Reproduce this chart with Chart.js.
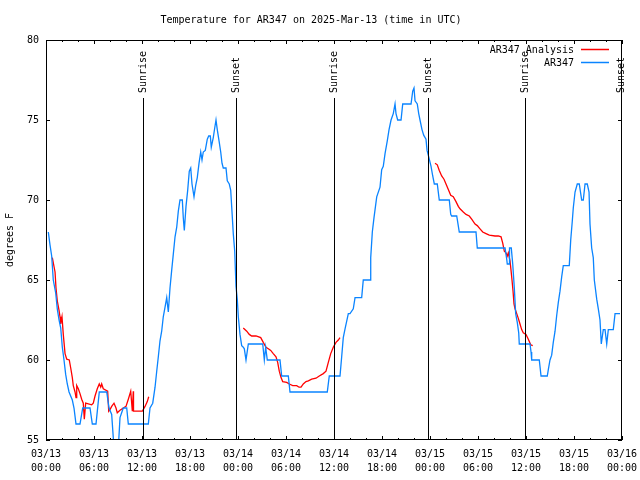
<!DOCTYPE html>
<html>
<head>
<meta charset="utf-8">
<title>AR347 temperature</title>
<script src="https://cdn.jsdelivr.net/npm/chart.js@4/dist/chart.umd.min.js"></script>
<style>
  html, body { margin: 0; padding: 0; background: #fff; }
</style>
</head>
<body>
<canvas id="chart" width="640" height="480"></canvas>
<script>
/* ---------- DATA (hours since 03/13 00:00 UTC) ---------- */
const obsHours = [
  0.29, 0.5, 0.71, 0.91, 1.21, 1.41, 1.63, 1.84, 2.04, 2.25, 2.46, 2.66, 2.88, 3.29, 3.5, 3.75,
  4.25, 4.59, 5.5, 5.79, 6.25, 6.66, 7.59, 7.88, 8.21, 8.5, 9.04, 9.25, 9.66, 10.09, 10.29,
  12.79, 13.0, 13.34, 13.63, 13.84, 14.04, 14.25, 14.46, 14.66, 14.88, 15.09, 15.29, 15.5,
  15.71, 15.91, 16.13, 16.34, 16.54, 16.75, 17.04, 17.16, 17.29, 17.5, 17.71, 17.91, 18.09,
  18.25, 18.5, 18.71, 18.91, 19.13, 19.34, 19.5, 19.66, 19.91, 20.16, 20.34, 20.54, 20.66,
  20.91, 21.09, 21.25, 21.41, 21.63, 21.84, 22.0, 22.16, 22.5, 22.66, 22.91, 23.09, 23.21,
  23.41, 23.59, 23.75, 23.91, 24.04, 24.25, 24.46, 24.66, 24.79, 25.0, 25.29, 27.09, 27.29,
  27.46, 27.66, 29.25, 29.46, 30.29, 30.5, 35.16, 35.41, 36.75, 36.96, 37.16, 37.38, 37.79,
  38.0, 38.41, 38.63, 39.46, 39.66, 40.5, 40.59, 40.79, 41.0, 41.34, 41.75, 41.96, 42.16,
  42.38, 42.66, 42.88, 43.13, 43.41, 43.63, 43.75, 43.96, 44.38, 44.59, 45.63, 45.84, 46.0,
  46.13, 46.41, 46.59, 46.75, 47.0, 47.21, 47.5, 47.63, 47.84, 48.13, 48.34, 48.54, 48.91,
  49.16, 50.41, 50.59, 50.71, 51.34, 51.66, 53.75, 53.91, 57.38, 57.59, 57.66, 57.91, 57.94,
  58.16, 58.34, 58.54, 58.71, 58.91, 59.09, 59.16, 60.5, 60.63, 60.71, 61.66, 61.88, 62.66,
  62.79, 63.0, 63.21, 63.41, 63.63, 63.84, 64.04, 64.25, 64.46, 64.66, 65.41, 65.59, 65.79,
  65.91, 66.13, 66.41, 66.66, 66.84, 66.96, 67.16, 67.38, 67.66, 67.88, 68.0, 68.21, 68.41,
  68.54, 68.84, 69.04, 69.25, 69.41, 69.66, 69.88, 70.09, 70.29, 70.91, 71.13, 71.75
];
const obsTemps = [
  68.0, 67.2, 66.5, 65.0, 64.2, 63.2, 62.5, 62.0, 60.8, 60.0, 59.1, 58.5, 58.0, 57.5, 57.0, 56.0,
  56.0, 57.0, 57.0, 56.0, 56.0, 58.0, 58.0, 57.0, 56.6, 54.5, 54.5, 56.4, 57.0, 57.0, 56.0,
  56.0, 57.0, 57.3, 58.3, 59.3, 60.2, 61.2, 61.8, 62.7, 63.3, 63.9, 63.0, 64.5,
  65.6, 66.6, 67.7, 68.3, 69.3, 70.0, 70.0, 68.9, 68.1, 69.6, 70.6, 71.8, 72.0,
  71.0, 70.2, 70.9, 71.4, 72.3, 73.0, 72.5, 73.0, 73.1, 73.8, 74.0, 74.0, 73.3,
  73.9, 74.5, 75.0, 74.4, 73.7, 73.0, 72.3, 72.0, 72.0, 71.2, 71.0, 70.6, 69.6,
  67.9, 66.8, 64.6, 63.8, 62.7, 61.6, 60.9, 60.8, 60.7, 60.0, 61.0, 61.0, 60.0,
  60.8, 60.0, 60.0, 59.0, 59.0, 58.0, 58.0, 59.0, 59.0, 60.2, 61.4, 61.95, 62.9,
  62.9, 63.2, 63.9, 63.9, 65.0, 65.0, 66.4, 68.0, 68.9, 70.2, 70.8, 71.9, 72.1,
  72.9, 73.7, 74.4, 75.0, 75.4, 76.0, 75.4, 75.0, 75.0, 76.0, 76.0, 76.8, 77.0,
  76.2, 76.0, 75.4, 75.0, 74.4, 74.05, 73.8, 73.1, 72.7, 72.1, 71.5, 71.0, 71.0,
  70.0, 70.0, 69.1, 69.0, 69.0, 68.0, 68.0, 67.0, 67.0, 66.3, 66.0, 66.0, 67.0,
  67.0, 66.0, 64.5, 62.9, 62.35, 61.7, 61.0, 61.0, 60.5, 60.0, 60.0, 59.0, 59.0,
  59.4, 60.0, 60.3, 61.1, 61.8, 62.8, 63.6, 64.3, 65.2, 65.9, 65.9, 67.5, 68.7,
  69.5, 70.5, 71.0, 71.0, 70.4, 70.0, 70.0, 71.0, 71.0, 70.5, 68.5, 67.0, 66.4,
  65.0, 63.8, 63.2, 62.5, 61.0, 61.9, 61.9, 61.0, 61.9, 61.9, 62.9, 62.9
];

// analysis series, null = no analysis (gap)
const anaHours = [
  0.79, 1.13, 1.25, 1.41, 1.63, 1.75, 1.84, 2.0, 2.16, 2.38, 2.59, 2.91, 3.09, 3.29, 3.41, 3.63,
  3.75, 3.84, 4.04, 4.25, 4.46, 4.66, 4.79, 4.96, 5.71, 5.91, 6.13, 6.41, 6.66, 6.84, 6.96,
  7.16, 7.71, 7.84, 8.0, 8.21, 8.5, 8.75, 8.91, 9.25, 9.66, 10.0, 10.29, 10.59, 10.79, 10.91,
  10.94, 12.04, 12.38, 12.66, 12.84,
  18.0,
  24.66, 25.09, 25.41, 25.71, 26.25, 26.84, 27.16, 27.5, 27.79, 28.09, 28.41, 28.75, 28.96,
  29.16, 29.38, 29.59, 30.09, 30.41, 30.84, 31.34, 31.63, 31.88, 32.16, 32.5, 32.79, 33.21,
  33.75, 34.16, 34.66, 35.0, 35.29, 35.59, 35.91, 36.25, 36.54, 36.75,
  42.0,
  48.63, 48.91, 49.16, 49.46, 49.75, 50.0, 50.29, 50.59, 50.91, 51.25, 51.54, 51.75, 52.16,
  52.5, 52.91, 53.21, 53.63, 53.91, 54.25, 54.59, 55.0, 55.41, 56.13, 56.54, 56.88, 57.09,
  57.29, 57.5, 57.66, 57.79, 58.0, 58.13, 58.25, 58.38, 58.5, 58.63, 58.84, 59.04, 59.25,
  59.46, 59.66, 60.0, 60.29, 60.59, 60.84
];
const anaTemps = [
  66.4, 65.5, 64.5, 63.7, 63.1, 62.7, 62.25, 62.7, 61.6, 60.4, 60.05, 60.0, 59.5, 58.9, 58.4, 58.0,
  57.65, 58.4, 58.2, 57.9, 57.55, 57.3, 56.3, 57.3, 57.2, 57.3, 57.75, 58.2, 58.5, 58.3, 58.5,
  58.2, 58.05, 56.8, 56.9, 57.1, 57.3, 57.0, 56.7, 56.86, 57.0, 57.1, 57.55, 58.05, 56.8, 58.05,
  56.8, 56.8, 57.1, 57.4, 57.7,
  null,
  62.0, 61.8, 61.6, 61.5, 61.5, 61.4, 61.1, 60.8, 60.7, 60.6, 60.4, 60.2, 59.85,
  59.3, 58.9, 58.65, 58.6, 58.5, 58.4, 58.4, 58.3, 58.3, 58.5, 58.65, 58.7, 58.8,
  58.86, 59.0, 59.15, 59.3, 59.85, 60.4, 60.8, 61.1, 61.25, 61.4,
  null,
  72.3, 72.2, 71.85, 71.5, 71.3, 71.0, 70.65, 70.3, 70.2, 69.9, 69.6, 69.45, 69.25,
  69.1, 69.0, 68.8, 68.5, 68.4, 68.2, 68.0, 67.9, 67.8, 67.75, 67.75, 67.7, 67.3,
  66.8, 66.7, 66.5, 66.7, 66.2, 65.6, 65.0, 64.3, 63.5, 63.2, 62.9, 62.6, 62.25,
  61.9, 61.7, 61.6, 61.3, 60.95, 60.9
];

const sunriseHours = [12.08, 36.03, 59.93];
const sunsetHours = [23.75, 47.81, 71.84];

const tickDates = ["03/13", "03/13", "03/13", "03/13", "03/14", "03/14", "03/14",
                   "03/14", "03/15", "03/15", "03/15", "03/15", "03/16"];
const tickTimes = ["00:00", "06:00", "12:00", "18:00", "00:00", "06:00", "12:00",
                   "18:00", "00:00", "06:00", "12:00", "18:00", "00:00"];

const FONT = "'DejaVu Sans Mono', 'Liberation Mono', monospace";
Chart.defaults.font.family = FONT;
Chart.defaults.font.size = 10;
Chart.defaults.color = "#000";

const toPoints = (xs, ys) => xs.map((h, i) => ({ x: h, y: ys[i] }));

/* ---------- FRAME, TICKS, SUN MARKERS, KEY ---------- */
const gnuFrame = {
  id: "gnuFrame",
  afterDatasetsDraw(chart) {
    const { ctx, chartArea: a, scales: { x, y } } = chart;
    const L = Math.round(a.left), R = Math.round(a.right);
    const T = Math.round(a.top), B = Math.round(a.bottom);
    ctx.save();
    ctx.strokeStyle = "#000";
    ctx.fillStyle = "#000";
    ctx.lineWidth = 1;

    // sunrise / sunset lines with rotated labels
    const marks = sunriseHours.map(h => [h, "Sunrise"])
      .concat(sunsetHours.map(h => [h, "Sunset"]));
    ctx.font = "10px " + FONT;
    marks.forEach(([h, txt]) => {
      const px = Math.round(x.getPixelForValue(h)) + 0.5;
      ctx.beginPath();
      ctx.moveTo(px, 98);
      ctx.lineTo(px, B);
      ctx.stroke();
      ctx.save();
      ctx.translate(px, 93);
      ctx.rotate(-Math.PI / 2);
      ctx.textAlign = "left";
      ctx.textBaseline = "middle";
      ctx.fillText(txt, 0, 0);
      ctx.restore();
    });

    // border
    ctx.strokeRect(L + 0.5, T + 0.5, R - L - 1, B - T - 1);

    // tick marks, mirrored
    ctx.beginPath();
    for (let h = 0; h <= 72; h += 2) {
      const px = Math.round(x.getPixelForValue(h)) + 0.5;
      const len = h % 6 === 0 ? 4 : 2;
      ctx.moveTo(px, B); ctx.lineTo(px, B - len);
      ctx.moveTo(px, T); ctx.lineTo(px, T + len);
    }
    for (let v = 55; v <= 80; v += 5) {
      const py = Math.round(y.getPixelForValue(v)) + 0.5;
      ctx.moveTo(L, py); ctx.lineTo(L + 4, py);
      ctx.moveTo(R, py); ctx.lineTo(R - 4, py);
    }
    ctx.stroke();

    // key, top right inside the plot
    ctx.textAlign = "right";
    ctx.textBaseline = "middle";
    chart.data.datasets.forEach((ds, i) => {
      const ky = 50 + i * 13;
      ctx.fillStyle = "#000";
      ctx.fillText(ds.label, 574, ky);
      ctx.strokeStyle = ds.borderColor;
      ctx.lineWidth = 1.5;
      ctx.beginPath();
      ctx.moveTo(581, ky - 0.5);
      ctx.lineTo(609, ky - 0.5);
      ctx.stroke();
    });
    ctx.restore();
  }
};

/* ---------- CHART ---------- */
new Chart(document.getElementById("chart"), {
  type: "line",
  data: {
    datasets: [
      {
        label: "AR347 Analysis",
        data: toPoints(anaHours, anaTemps),
        borderColor: "#ff0000",
        borderWidth: 1.3,
        pointRadius: 0,
        spanGaps: false,
        order: 1
      },
      {
        label: "AR347",
        data: toPoints(obsHours, obsTemps),
        borderColor: "#0a84ff",
        borderWidth: 1.3,
        pointRadius: 0,
        order: 0
      }
    ]
  },
  options: {
    responsive: false,
    animation: false,
    layout: { padding: { left: 0, right: 18, top: 0, bottom: 0 } },
    plugins: {
      legend: { display: false },
      tooltip: { enabled: false },
      title: {
        display: true,
        text: "Temperature for AR347 on 2025-Mar-13 (time in UTC)",
        font: { size: 10, weight: "normal", lineHeight: 1.2 },
        padding: { top: 14, bottom: 14 }
      }
    },
    scales: {
      x: {
        type: "linear",
        min: 0,
        max: 72,
        grid: { display: false, drawTicks: false },
        border: { display: false },
        ticks: {
          stepSize: 6,
          autoSkip: false,
          maxRotation: 0,
          padding: 7,
          font: { size: 10, lineHeight: 1.4 },
          callback: v => {
            const i = Math.round(v / 6);
            return [tickDates[i], tickTimes[i]];
          }
        },
        afterFit: s => {
          s.height = 40;
          s.paddingLeft = 0;
          s.paddingRight = 0;
        }
      },
      y: {
        min: 55,
        max: 80,
        grid: { display: false, drawTicks: false },
        border: { display: false },
        ticks: { stepSize: 5, padding: 7 },
        title: {
          display: true,
          text: "degrees F",
          padding: { top: 4, bottom: 4 }
        },
        afterFit: s => {
          s.width = 46;
          s.paddingTop = 0;
          s.paddingBottom = 0;
        }
      }
    }
  },
  plugins: [gnuFrame]
});
</script>
</body>
</html>
